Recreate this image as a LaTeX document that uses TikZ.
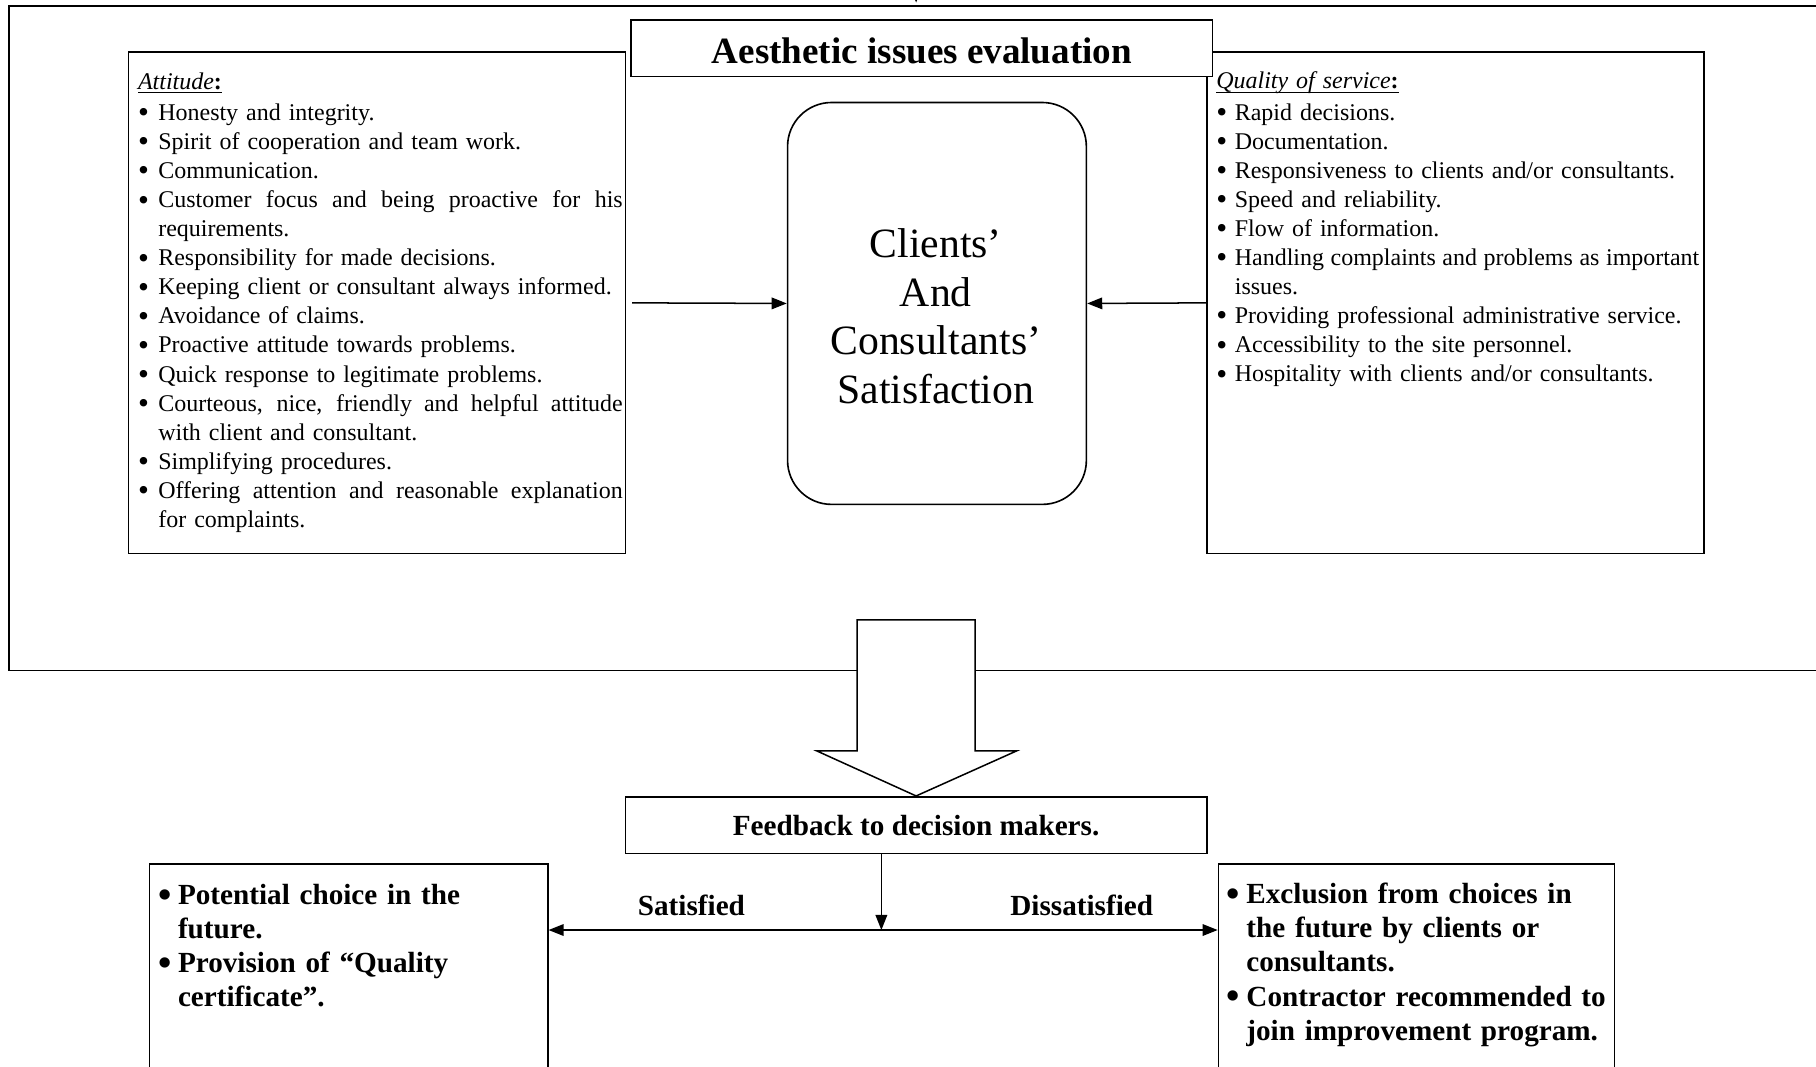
\documentclass[tikz,border=0pt]{standalone}
\usepackage{fontspec}
\setmainfont{Liberation Serif}
\usepackage{graphicx}
\usetikzlibrary{arrows.meta,calc}

\newlength\bw
\setlength\bw{17pt}
\newcommand\bul{\raisebox{-0.1em}{\scalebox{1.3}{\textbullet}}}
\newcommand\bl[1]{\makebox[\bw][l]{\bul}#1}
\newcommand\bj[1]{\makebox[\bw][l]{\bul}\hbox to 401pt{\spaceskip=0.25em plus 1fil minus 0.1em\relax #1}}
\newcommand\cl[1]{\hspace*{\bw}#1}
\newsavebox\ulbox
\newcommand\myul[1]{\sbox\ulbox{#1}\rlap{\vrule width \wd\ulbox height -2.4pt depth 3.6pt}\usebox\ulbox}

\tikzset{
  box/.style={draw, line width=1.5pt, fill=white, inner sep=0pt},
  listtext/.style={inner sep=0pt, text width=430pt, align=left, anchor=north west,
    font=\fontsize{20.7}{25.1}\selectfont},
  boldtext/.style={inner sep=0pt, text width=330pt, align=left, anchor=north west,
    font=\fontsize{25.2}{29.4}\selectfont\bfseries},
  lbl/.style={inner sep=0pt, font=\fontsize{25.2}{29.4}\selectfont\bfseries},
  tip/.style={-{Triangle[length=13pt,width=10pt]}},
  arr/.style={line width=1.3pt, tip},
  darr/.style={line width=1.3pt, {Triangle[length=13pt,width=10pt]}-{Triangle[length=13pt,width=10pt]}},
}

\begin{document}
\begin{tikzpicture}[x=1pt,y=-1pt]
\useasboundingbox (0,0) rectangle (1568,921);

% outer frame
\node[draw, line width=1.5pt, minimum width=1592pt, minimum height=574pt, inner sep=0pt] (outer) at (804,292) {};
\coordinate (topin) at (791,-40);
\draw[arr, shorten >=2pt] (topin) -- (topin |- outer.north);

% side lists
\node[box, minimum width=429pt, minimum height=433pt] (att) at (325.5,261.5) {};
\node[box, minimum width=429pt, minimum height=433pt] (qual) at (1256.5,261.5) {};

\node[listtext] (atttext) at (119,62.5) {%
\setlength\bw{17.5pt}%
\myul{\textit{Attitude}\textbf{:}}\\[1.8pt]
\bl{Honesty and integrity.}\\
\bl{Spirit of cooperation and team work.}\\
\bl{Communication.}\\
\bj{Customer focus and being proactive for his}\\
\cl{requirements.}\\
\bl{Responsibility for made decisions.}\\
\bl{Keeping client or consultant always informed.}\\
\bl{Avoidance of claims.}\\
\bl{Proactive attitude towards problems.}\\
\bl{Quick response to legitimate problems.}\\
\bj{Courteous, nice, friendly and helpful attitude}\\
\cl{with client and consultant.}\\
\bl{Simplifying procedures.}\\
\bj{Offering attention and reasonable explanation}\\
\cl{for complaints.}};

\node[listtext] (qualtext) at (1050,62) {%
\setlength\bw{16pt}%
\myul{\textit{Quality of service}\textbf{:}}\\[1.8pt]
\bl{Rapid decisions.}\\
\bl{Documentation.}\\
\bl{Responsiveness to clients and/or consultants.}\\
\bl{Speed and reliability.}\\
\bl{Flow of information.}\\
\bj{Handling complaints and problems as important}\\
\cl{issues.}\\
\bl{Providing professional administrative service.}\\
\bl{Accessibility to the site personnel.}\\
\bl{Hospitality with clients and/or consultants.}};

% title
\node[box, minimum width=502pt, minimum height=49pt, text height=27pt, text depth=0.2pt,
  font=\fontsize{32}{36}\selectfont\bfseries] (title) at (796,41.5) {Aesthetic issues evaluation};

% centre
\node[draw, line width=1.4pt, rounded corners=38pt, minimum width=258pt, minimum height=347pt, inner sep=0pt] (sat) at (809,262) {};
\node[inner sep=0pt, align=center, font=\fontsize{36}{42}\selectfont] (sattext) at (808,273) {Clients’\\And\\Consultants’\\Satisfaction};

\draw[arr] ([xshift=5pt]att.east) -- (sat.west);
\draw[arr] (qual.west) -- (sat.east);

% feedback
\node[box, minimum width=502pt, minimum height=49pt, font=\fontsize{25.2}{29.4}\selectfont\bfseries] (fb) at (791,712.5) {Feedback to decision makers.};

\draw[line width=1.3pt, fill=white] ($(fb.north)+(-51,-152)$) -- ++(102,0) -- ++(0,113) -- ++(36,0)
  -- (fb.north) -- ++(-86,-39) -- ++(35,0) -- cycle;

% results
\node[box, line width=1.3pt, minimum width=344pt, minimum height=260pt] (good) at (301,876) {};
\node[box, line width=1.3pt, minimum width=342pt, minimum height=260pt] (bad) at (1223,876) {};

\node[boldtext] (goodtext) at (136.5,763) {%
\setlength\bw{17pt}%
\bl{Potential choice in the}\\
\cl{future.}\\
\bl{Provision of “Quality}\\
\cl{certificate”.}};

\node[boldtext] (badtext) at (1059,762.5) {%
\setlength\bw{17pt}%
\bl{Exclusion from choices in}\\
\cl{the future by clients or}\\
\cl{consultants.}\\
\bl{Contractor recommended to}\\
\cl{join improvement program.}};

\coordinate (split) at (761,803);
\draw[arr] (fb.south -| split) -- (split);
\draw[darr] (good.east |- split) -- (bad.west |- split);

\node[lbl] (satl) at (597,782) {Satisfied};
\node[lbl] (dissl) at (934,782) {Dissatisfied};
\end{tikzpicture}
\end{document}
